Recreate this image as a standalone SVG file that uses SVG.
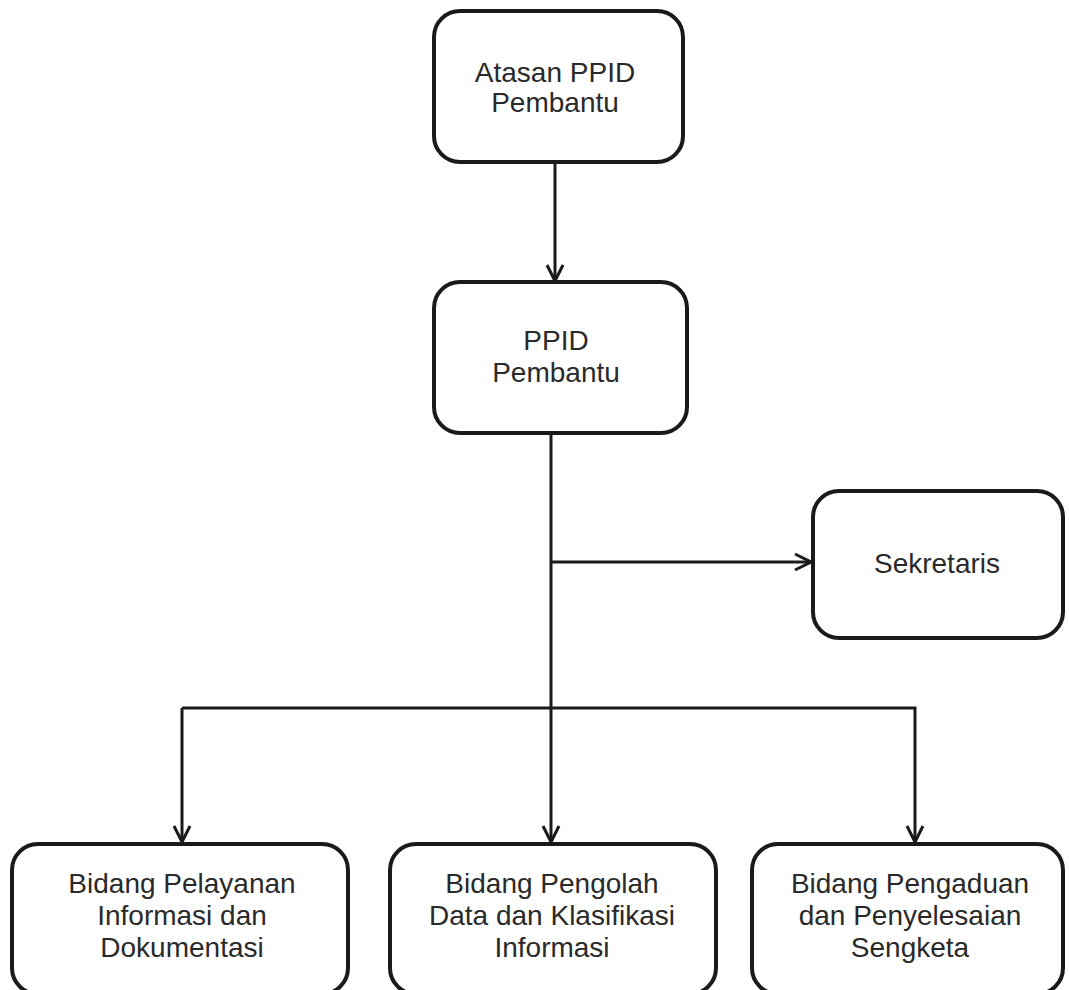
<svg xmlns="http://www.w3.org/2000/svg" width="1069" height="990" viewBox="0 0 1069 990">
<style>
.box{fill:#fff;stroke:#1a1a1a;stroke-width:4}
.t{font-family:"Liberation Sans",Arial,sans-serif;font-size:28px;fill:#2a2a2a;text-anchor:middle}
.c{fill:none;stroke:#1a1a1a;stroke-width:3}
</style>
<defs>
<marker id="a" viewBox="0 0 20 20" refX="18" refY="10" markerWidth="20" markerHeight="20" markerUnits="userSpaceOnUse" orient="auto">
<path d="M2,2 L18,10 L2,18" fill="none" stroke="#1a1a1a" stroke-width="3"/>
</marker>
</defs>
<rect width="1069" height="990" fill="#fff"/>
<g id="connectors">
<line class="c" x1="555" y1="162" x2="555" y2="281" marker-end="url(#a)"/>
<line class="c" x1="551" y1="433" x2="551" y2="708"/>
<line class="c" x1="551" y1="562" x2="811" y2="562" marker-end="url(#a)"/>
<polyline class="c" points="182,708 915,708 915,842" marker-end="url(#a)"/>
<line class="c" x1="182" y1="708" x2="182" y2="842" marker-end="url(#a)"/>
<line class="c" x1="551" y1="708" x2="551" y2="842" marker-end="url(#a)"/>
</g>
<g id="atasan">
<rect class="box" x="434" y="11" width="249" height="151" rx="26"/>
<text class="t" x="555" y="82">Atasan PPID</text>
<text class="t" x="555" y="112">Pembantu</text>
</g>
<g id="ppid">
<rect class="box" x="434" y="282" width="253" height="151" rx="26"/>
<text class="t" x="556" y="350">PPID</text>
<text class="t" x="556" y="382">Pembantu</text>
</g>
<g id="sekretaris">
<rect class="box" x="813" y="491" width="250" height="147" rx="26"/>
<text class="t" x="937" y="573">Sekretaris</text>
</g>
<g id="bidang1">
<rect class="box" x="12" y="844" width="336" height="150" rx="26"/>
<text class="t" x="182" y="893">Bidang Pelayanan</text>
<text class="t" x="182" y="925">Informasi dan</text>
<text class="t" x="182" y="957">Dokumentasi</text>
</g>
<g id="bidang2">
<rect class="box" x="390" y="844" width="326" height="150" rx="26"/>
<text class="t" x="552" y="893">Bidang Pengolah</text>
<text class="t" x="552" y="925">Data dan Klasifikasi</text>
<text class="t" x="552" y="957">Informasi</text>
</g>
<g id="bidang3">
<rect class="box" x="752" y="844" width="311" height="150" rx="26"/>
<text class="t" x="910" y="893">Bidang Pengaduan</text>
<text class="t" x="910" y="925">dan Penyelesaian</text>
<text class="t" x="910" y="957">Sengketa</text>
</g>
</svg>
